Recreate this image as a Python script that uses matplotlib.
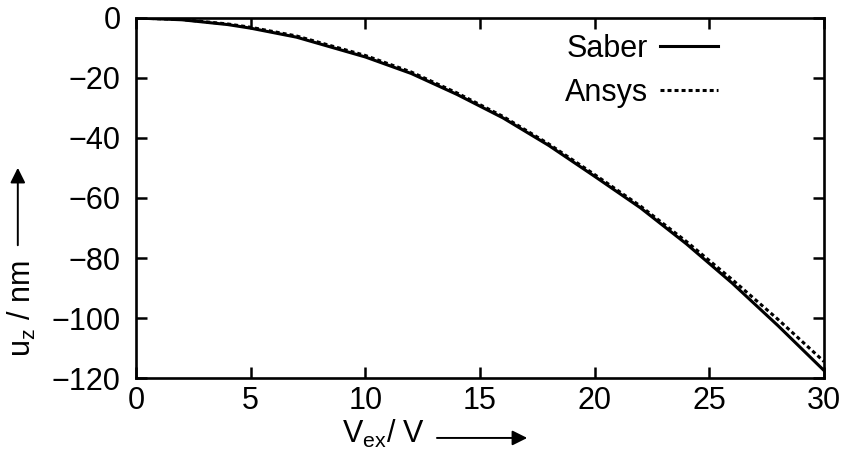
import matplotlib
matplotlib.use("Agg")
import matplotlib.pyplot as plt
from matplotlib.patches import FancyArrowPatch

plt.rcParams['font.family'] = ['Liberation Sans', 'DejaVu Sans']

# bias voltage (V) and deflection (nm)
v_saber = [0, 2, 4, 5, 7, 10, 12, 14, 16, 18, 20, 22, 24, 26, 28, 30]
uz_saber = [0, -0.6, -2.2, -3.4, -6.4, -13, -18.5, -25.5, -33.3, -42.5,
            -52.8, -63.3, -75.3, -88.4, -102.6, -117.5]
v_ansys = [0, 2, 4, 5, 7, 10, 12, 14, 16, 18, 20, 22, 24, 26, 28, 30]
uz_ansys = [0, -0.5, -2.0, -3.1, -6.0, -12.5, -18.0, -25.0, -32.8, -42.0,
            -52.2, -62.7, -74.5, -87.2, -100.5, -114.5]

x_ticks = [0, 5, 10, 15, 20, 25, 30]
y_ticks = [0, -20, -40, -60, -80, -100, -120]
y_ticklabels = ['0', '\u221220', '\u221240', '\u221260', '\u221280',
                '\u2212100', '\u2212120']

fig = plt.figure(figsize=(8.48, 4.61), dpi=100)
ax = fig.add_axes([0.1604, 0.18, 0.8113, 0.781])

ax.plot(v_saber, uz_saber, color='black', lw=2.2, label='Saber')
ax.plot(v_ansys, uz_ansys, color='black', lw=2.2, linestyle=(0, (1.3, 1.0)),
        label='Ansys')

ax.set_xlim(0, 30)
ax.set_ylim(-120, 0)
ax.set_xticks(x_ticks)
ax.set_yticks(y_ticks)
ax.set_yticklabels(y_ticklabels)
ax.tick_params(direction='in', length=8, width=1.8, labelsize=22,
               top=True, right=True)
ax.tick_params(axis='x', pad=6)
ax.tick_params(axis='y', pad=11)
for s in ax.spines.values():
    s.set_linewidth(1.9)

ax.legend(loc='upper right', markerfirst=False, frameon=False,
          fontsize=22, handlelength=1.9, handletextpad=0.4,
          labelspacing=0.45, borderaxespad=0, borderpad=0,
          bbox_to_anchor=(0.846, 0.955))

# axis labels with arrows
fig.text(0.403, 0.039, r'$\mathregular{V_{ex}}$/ V', fontsize=22,
         ha='left', va='baseline')
fig.patches.append(FancyArrowPatch(
    (0.512, 0.050), (0.625, 0.050), transform=fig.transFigure,
    arrowstyle='-|>,head_length=9,head_width=4.5', color='black', lw=1.4))
fig.text(0.026, 0.226, r'$\mathregular{u_z}$ / nm', fontsize=22,
         rotation=90, ha='center', va='bottom')
fig.patches.append(FancyArrowPatch(
    (0.021, 0.462), (0.021, 0.642), transform=fig.transFigure,
    arrowstyle='-|>,head_length=9,head_width=4.5', color='black', lw=1.4))

fig.savefig('out.png', dpi=100)
